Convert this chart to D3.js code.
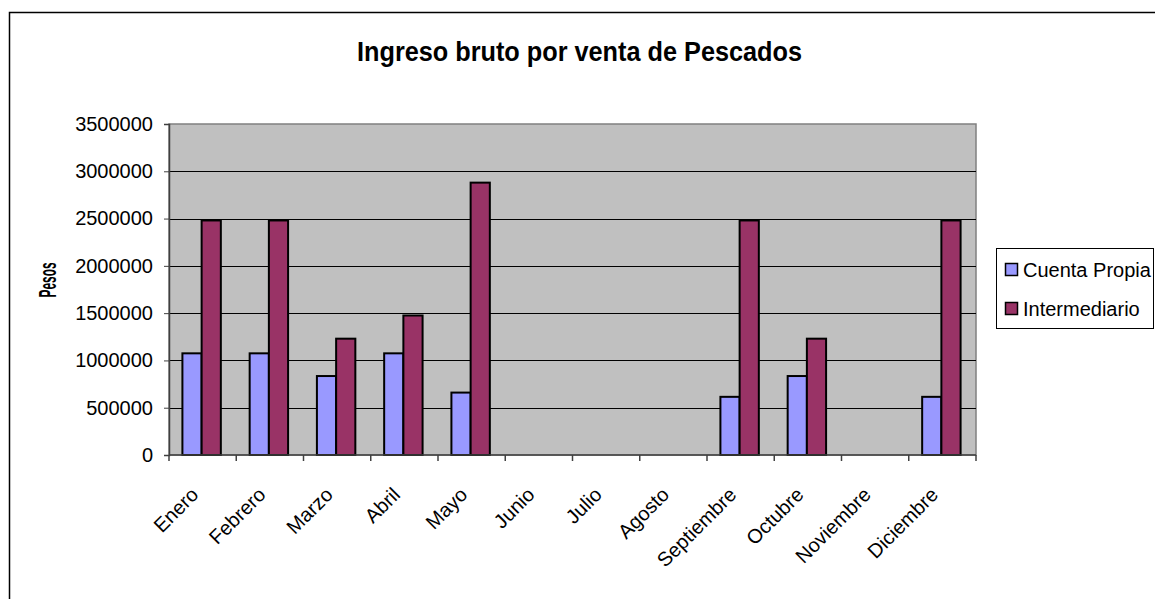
<!DOCTYPE html>
<html>
<head>
<meta charset="utf-8">
<script src="https://cdn.jsdelivr.net/npm/d3@7"></script>
<style>
  html, body { margin: 0; padding: 0; background: #fff; }
  text { font-family: "Liberation Sans", Arial, sans-serif; fill: #000; }
</style>
</head>
<body>
<svg id="chart" width="1155" height="599"></svg>
<script>
const months = ["Enero","Febrero","Marzo","Abril","Mayo","Junio","Julio","Agosto","Septiembre","Octubre","Noviembre","Diciembre"];
const seriesNames = ["Cuenta Propia","Intermediario"];
const cuentaPropia = [1075000,1075000,835000,1075000,660000,0,0,0,615000,835000,0,615000];
const intermediario = [2480000,2480000,1230000,1475000,2880000,0,0,0,2480000,1230000,0,2480000];
const yTicks = [0,500000,1000000,1500000,2000000,2500000,3000000,3500000];
const titleText = "Ingreso bruto por venta de Pescados";
const yAxisTitle = "Pesos";
const colors = ["#9999FF","#993366"];

const svg = d3.select("#chart");

// outer chart border
svg.append("rect").attr("x",9.5).attr("y",12.5).attr("width",1160).attr("height",600)
  .attr("fill","#fff").attr("stroke","#000").attr("stroke-width",1.5);

const L = 169, R = 976, T = 124, B = 455;
const x0 = d3.scaleBand().domain(months).range([L,R]).padding(0);
const x1 = d3.scaleBand().domain(seriesNames).range([0,x0.bandwidth()]).paddingInner(0).paddingOuter(0.75);
const y = d3.scaleLinear().domain([0,3500000]).range([B,T]);

// plot background
svg.append("rect").attr("x",L).attr("y",T).attr("width",R-L).attr("height",B-T)
  .attr("fill","#C0C0C0").attr("stroke","#808080").attr("stroke-width",1.5);

// gridlines
svg.append("g").selectAll("line").data(yTicks.filter(d=>d>0 && d<3500000)).join("line")
  .attr("x1",L).attr("x2",R).attr("y1",d=>Math.round(y(d))+0.5).attr("y2",d=>Math.round(y(d))+0.5)
  .attr("stroke","#000").attr("stroke-width",1);

// bars
const data = months.map((m,i)=>({m, vals:[cuentaPropia[i], intermediario[i]]}));
const groups = svg.append("g").selectAll("g").data(data).join("g")
  .attr("transform",d=>`translate(${x0(d.m)},0)`);
groups.selectAll("rect").data(d=>d.vals.map((v,j)=>({v, s:seriesNames[j], j})).filter(e=>e.v>0)).join("rect")
  .attr("x",e=>x1(e.s)-1).attr("width",x1.bandwidth())
  .attr("y",e=>y(e.v)).attr("height",e=>B-y(e.v))
  .attr("fill",e=>colors[e.j]).attr("stroke","#000").attr("stroke-width",2);

// y axis
const yAxis = d3.axisLeft(y).tickValues(yTicks).tickSize(5).tickPadding(11).tickFormat(d3.format("d"));
const gy = svg.append("g").attr("transform",`translate(${L},0)`).call(yAxis);
gy.select(".domain").attr("stroke","#404040").attr("stroke-width",1.5);
gy.selectAll(".tick line").attr("stroke","#404040");
gy.selectAll("text").style("font-size","20px").attr("fill","#000");

// x axis
const gx = svg.append("g").attr("transform",`translate(0,${B})`);
gx.append("line").attr("x1",L).attr("x2",R).attr("y1",0).attr("y2",0).attr("stroke","#404040").attr("stroke-width",1.5);
const bounds = months.map(m=>x0(m)).concat([R]);
gx.selectAll("line.tk").data(bounds).join("line").attr("class","tk")
  .attr("x1",d=>d).attr("x2",d=>d).attr("y1",0).attr("y2",6).attr("stroke","#404040").attr("stroke-width",1.5);
gx.selectAll("text").data(months).join("text")
  .attr("transform",m=>`translate(${x0(m)+x0.bandwidth()/2-3},41) rotate(-45)`)
  .attr("text-anchor","end").style("font-size","20px").text(m=>m);

// title
svg.append("text").attr("x",579.5).attr("y",61).attr("text-anchor","middle")
  .style("font-size","27px").style("font-weight","bold")
  .attr("textLength",445).attr("lengthAdjust","spacingAndGlyphs").text(titleText);

// y axis title
svg.append("text").attr("transform","translate(56,280) rotate(-90)").attr("text-anchor","middle")
  .style("font-size","23px").style("font-weight","bold")
  .attr("textLength",35).attr("lengthAdjust","spacingAndGlyphs").text(yAxisTitle);

// legend
const lg = svg.append("g");
lg.append("rect").attr("x",996.5).attr("y",248.5).attr("width",157).attr("height",80)
  .attr("fill","#fff").attr("stroke","#000").attr("stroke-width",1);
seriesNames.forEach((s,i)=>{
  const yy = 263 + i*39;
  lg.append("rect").attr("x",1005.5).attr("y",yy+0.5).attr("width",12).attr("height",12)
    .attr("fill",colors[i]).attr("stroke","#000").attr("stroke-width",1.5);
  lg.append("text").attr("x",1023).attr("y",yy+14).style("font-size","20px").text(s);
});
</script>
</body>
</html>
